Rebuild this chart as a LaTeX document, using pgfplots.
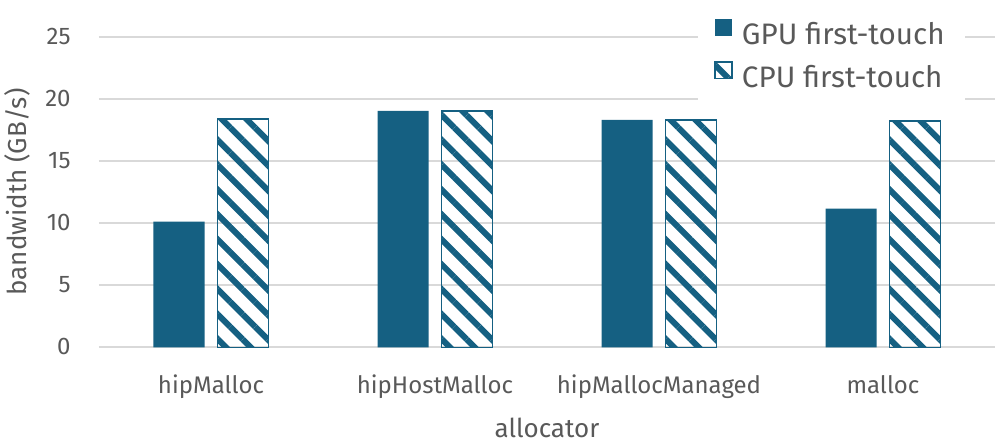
\documentclass[border=0pt]{standalone}
\usepackage{fontspec}
\setmainfont{Fira Sans}
\usepackage{pgfplots}
\pgfplotsset{compat=1.18}
\usetikzlibrary{patterns.meta}
\definecolor{acc}{HTML}{156082}
\definecolor{txt}{HTML}{595959}
\definecolor{grd}{HTML}{D9D9D9}
\begin{document}
\begin{tikzpicture}
\begin{axis}[
  at={(0,0)}, anchor=south west,
  scale only axis, width=448pt, height=155.3pt,
  ymin=0, ymax=25, ytick={0,5,...,25},
  xmin=-0.5, xmax=3.5, xtick={0,1,2,3},
  xticklabels={hipMalloc,hipHostMalloc,hipMallocManaged,malloc},
  axis line style={draw=none}, major tick length=0pt,
  ymajorgrids, grid style={grd, line width=0.9pt},
  ybar=6.5pt, bar width=25.5pt,
  /pgf/number format/assume math mode=true,
  tick label style={font=\fontsize{12}{14}\selectfont, text=txt, inner sep=0pt},
  yticklabel style={anchor=base east, xshift=-14pt, yshift=-3.65pt},
  xticklabel style={anchor=base, yshift=-23pt},
  ylabel={bandwidth (GB/s)},
  ylabel style={at={(axis description cs:-0.0804,0.5)}, anchor=base, inner sep=0pt, font=\fontsize{13}{15}\selectfont, text=txt},
  xlabel={allocator},
  xlabel style={at={(axis description cs:0.5,-0.2888)}, anchor=base, inner sep=0pt, font=\fontsize{13}{15}\selectfont, text=txt},
  legend style={at={(0.6685,1.0797)}, anchor=north west, draw=none, fill=white,
    inner xsep=8pt, inner ysep=3pt, row sep=4.8pt, column sep=2.5pt,
    font=\fontsize{14.8}{17}\selectfont, text=txt},
  legend cell align=left,
  legend image code/.code={\path[#1, line width=0.8pt] (0pt,-0.3pt) rectangle (8.5pt,8pt);},
]
\addplot[fill=acc, draw=none] coordinates {(0,10.11) (1,19.02) (2,18.30) (3,11.16)};
\addplot[draw=acc, line width=0.8pt, pattern={Lines[angle=-45,distance=8.8pt,line width=3pt]}, pattern color=acc] coordinates {(0,18.38) (1,19.02) (2,18.30) (3,18.20)};
\legend{GPU first-touch, CPU first-touch}
\end{axis}
\pgfresetboundingbox
\path[use as bounding box] (-49.5pt,-48.85pt) rectangle (448.5pt,173.65pt);
\end{tikzpicture}
\end{document}
